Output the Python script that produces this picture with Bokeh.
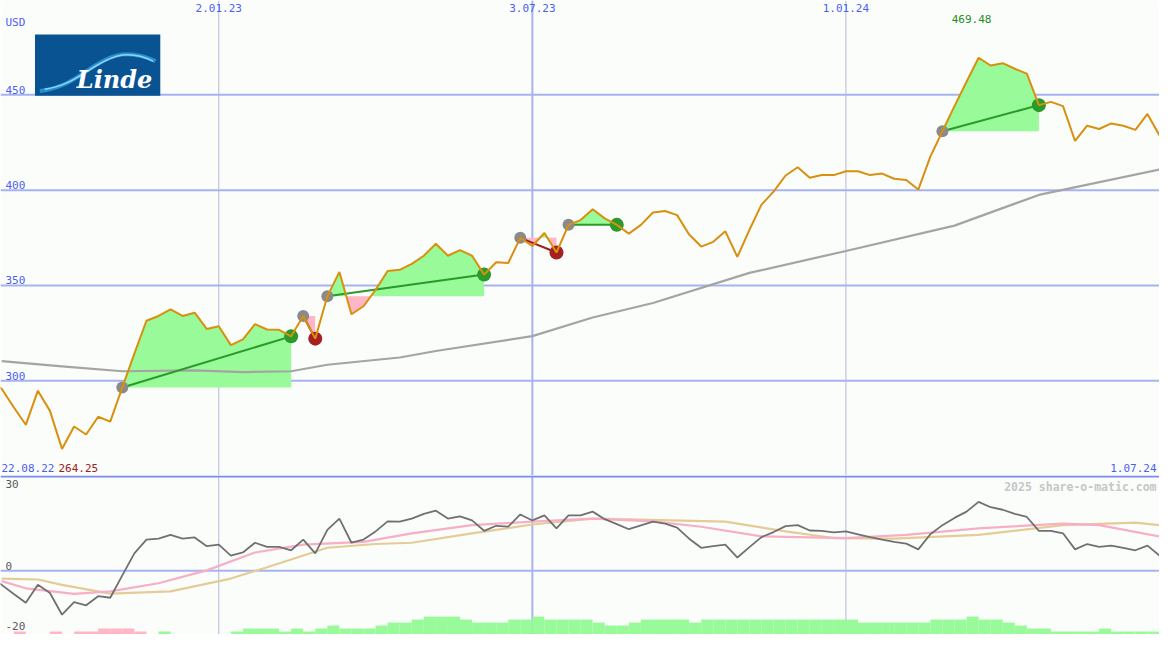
import datetime as dt
import numpy as np
from bokeh.plotting import figure
from bokeh.layouts import column
from bokeh.models import Range1d, Span
from bokeh.core.properties import value
from bokeh.embed import file_html
from bokeh.resources import INLINE

# ---------------- data ----------------
start_date = "22.08.22"          # first weekly close (index 0)
end_date = "1.07.24"
currency = "USD"
company = "Linde"

# weekly closing prices, index 0 = 22.08.22 ... index 97 = 1.07.24
price = [300.0, 295.8, 286.1, 276.9, 294.8, 284.2, 264.25, 276.0, 271.8, 281.1,
         278.6, 296.5, 314.2, 331.5, 334.0, 337.4, 334.0, 335.7, 327.2, 328.6,
         318.7, 321.7, 329.7, 326.9, 326.7, 323.3, 334.0, 322.1, 344.3, 357.1,
         334.9, 339.1, 347.7, 357.6, 358.2, 361.3, 365.6, 371.9, 365.6, 368.5,
         365.6, 355.7, 362.2, 361.8, 375.0, 370.7, 377.5, 367.3, 381.8, 384.3,
         390.0, 385.2, 381.8, 377.2, 381.8, 388.3, 389.1, 386.9, 376.7, 370.4,
         372.9, 378.4, 365.0, 379.2, 392.4, 399.2, 407.7, 412.0, 406.5, 407.9,
         407.9, 409.9, 409.9, 407.9, 408.7, 406.0, 405.3, 400.3, 417.6, 430.9,
         444.1, 456.9, 469.48, 465.4, 466.6, 463.7, 461.1, 444.6, 446.3, 444.1,
         425.8, 433.8, 432.1, 435.0, 433.8, 431.6, 440.0, 428.7]

# long moving average (grey), read at selected weeks
ma_idx = [1, 6, 11, 17, 21, 25, 28, 34, 37, 45, 50, 55, 63, 71, 80, 87, 97]
ma_val = [310.3, 307.6, 305.0, 305.5, 304.5, 305.0, 308.4, 312.2, 315.6, 323.4,
          333.2, 340.8, 356.6, 368.1, 381.4, 397.5, 410.8]

# trades: entry / exit week indices
entry_idx = [11, 26, 28, 44, 48, 79]
exit_idx = [25, 27, 41, 47, 52, 87]

# lower panel: oscillator (dark grey), weekly
osc = [-2.0, -4.5, -7.4, -10.2, -4.5, -7.1, -14.0, -10.0, -11.0, -8.1,
       -8.6, -1.5, 5.5, 9.9, 10.2, 11.4, 10.2, 10.6, 7.8, 8.3,
       4.8, 5.8, 8.9, 7.6, 7.6, 6.5, 9.9, 5.5, 13.0, 16.6,
       8.9, 9.9, 12.5, 15.7, 15.6, 16.6, 18.1, 19.1, 16.6, 17.3,
       16.0, 12.7, 14.3, 14.0, 17.9, 16.0, 17.6, 13.5, 17.6, 17.6,
       18.8, 16.4, 14.8, 13.2, 14.4, 15.6, 15.0, 13.7, 10.2, 7.3,
       7.8, 8.3, 4.2, 7.5, 10.7, 12.3, 14.2, 14.5, 12.8, 12.7,
       12.2, 12.5, 11.6, 10.7, 9.9, 9.2, 8.6, 6.8, 11.6, 14.5,
       16.8, 18.8, 21.9, 20.2, 19.4, 18.1, 17.1, 12.7, 12.7, 11.9,
       6.8, 8.5, 7.6, 8.0, 7.3, 6.5, 8.0, 4.8]

# signal lines (pink / tan), read at selected weeks
pink_idx = [1, 3, 7, 10, 14, 18, 22, 26, 31, 35, 40, 45, 50, 55, 59, 64, 71, 76, 82, 89, 92, 97]
pink_val = [-3.3, -5.6, -7.4, -6.6, -4.0, 0.1, 5.8, 8.3, 9.2, 11.9, 14.5, 15.6, 16.6,
            15.7, 14.0, 10.9, 10.4, 11.4, 13.5, 15.0, 14.5, 10.9]
tan_idx = [1, 4, 6, 10, 15, 20, 23, 28, 32, 35, 40, 45, 50, 52, 61, 66, 70, 75, 82, 89, 95, 97]
tan_val = [-2.5, -2.8, -4.5, -7.3, -6.6, -2.5, 1.1, 7.3, 8.5, 8.9, 11.9, 14.7, 16.6,
           16.4, 15.6, 12.5, 10.4, 10.2, 11.4, 14.5, 15.3, 14.5]

# weekly signal-strength bars (positive green, negative pink), bar k spans week k..k+1
vol_level = [0, 0, -1, 0, 0, -1, 0, -1, -1, -2,
             -2, -2, -1, 0, 1, 0, 0, 0, 0, 0,
             1, 2, 2, 2, 1, 2, 1, 2, 3, 2,
             2, 2, 3, 4, 4, 5, 6, 6, 6, 5,
             4, 4, 4, 5, 5, 6, 5, 5, 5, 5,
             4, 3, 3, 4, 5, 5, 5, 5, 4, 5,
             5, 5, 5, 5, 5, 5, 5, 5, 5, 5,
             5, 5, 4, 4, 4, 4, 4, 4, 5, 5,
             5, 6, 5, 5, 4, 3, 2, 2, 1, 1,
             1, 1, 2, 1, 1, 1, 1]

date_ticks = ["2.01.23", "3.07.23", "1.01.24"]
major_tick = "3.07.23"
price_ticks = [300, 350, 400, 450]
osc_ticks = [30, 0, -20]
min_label = "264.25"
max_label = "469.48"
watermark = "2025 share-o-matic.com"

# ---------------- style ----------------
BG = "#fbfdfb"
GRID = "#a6b3f0"
MINOR_V = "#b6b8d6"
TXT_BLUE = "#4d5ff0"
MONO = value("DejaVu Sans Mono")
FS = "11px"
W = 1159
H_TOP = 475
H_BOT = 159
X0, X1 = 0.9, 97.0
Y_TOP = (250.3, 499.5)
Y_BOT = (-20.3, 30.3)


def week_index(s):
    d0 = dt.datetime.strptime(start_date, "%d.%m.%y")
    d = dt.datetime.strptime(s, "%d.%m.%y")
    return (d - d0).days / 7.0


xr = Range1d(X0, X1)
wk = np.arange(len(price))
pr = np.array(price)


def base_fig(height, yr):
    f = figure(width=W, height=height, x_range=xr, y_range=Range1d(*yr),
               x_axis_type=None, y_axis_type=None, toolbar_location=None,
               output_backend="svg", min_border=0, background_fill_color=BG,
               border_fill_color=BG, outline_line_color=None)
    f.xgrid.visible = False
    f.ygrid.visible = False
    for s in date_ticks:
        major = s == major_tick
        f.add_layout(Span(location=week_index(s), dimension="height",
                          line_color=GRID if major else MINOR_V,
                          line_width=2 if major else 1, level="underlay"))
    return f


# ---------------- top panel ----------------
p = base_fig(H_TOP, Y_TOP)
for t in price_ticks:
    p.add_layout(Span(location=t, dimension="width", line_color=GRID,
                      line_width=2, level="underlay"))

# trade fills
for a, b in zip(entry_idx, exit_idx):
    L = price[a]
    xs, ys = [], []
    for k in range(a, b):
        xs.append(k)
        ys.append(price[k])
        d0, d1 = price[k] - L, price[k + 1] - L
        if d0 * d1 < 0:
            xs.append(k + (L - price[k]) / (price[k + 1] - price[k]))
            ys.append(L)
    xs.append(b)
    ys.append(price[b])
    ys = np.array(ys)
    p.varea(x=xs, y1=L, y2=np.maximum(ys, L), fill_color="#98fa98")
    p.varea(x=xs, y1=L, y2=np.minimum(ys, L), fill_color="#ffb6c6")

# moving average
p.line(ma_idx, ma_val, line_color="#a4a4a4", line_width=2.2)

# trade connecting lines
win = [price[b] >= price[a] for a, b in zip(entry_idx, exit_idx)]
p.segment(x0=entry_idx, y0=[price[a] for a in entry_idx],
          x1=exit_idx, y1=[price[b] for b in exit_idx],
          line_color=["#2a9a2a" if w else "#a01c1c" for w in win], line_width=2)

# markers
p.scatter(entry_idx, [price[a] for a in entry_idx], size=12,
          fill_color="#8a8a8a", line_color=None)
p.scatter(exit_idx, [price[b] for b in exit_idx], size=14,
          fill_color=["#2a9a2a" if w else "#a52020" for w in win], line_color=None)

# price line
p.line(wk, pr, line_color="#d8900e", line_width=2)

# logo (decoration, placed in the upper-left corner)
lx0, lx1 = X0 + 2.86, X0 + 13.25
ly0, ly1 = 449.5, 481.7
p.quad(left=lx0, right=lx1, bottom=ly0, top=ly1, fill_color="#0a5393", line_color=None)
p.bezier(x0=lx0 + 0.4, y0=ly0 + 2.5, x1=lx1 - 0.4, y1=ly1 - 14,
         cx0=lx0 + 4.5, cy0=ly0 + 5, cx1=lx0 + 5.5, cy1=ly1 - 1,
         line_color="#2f9fdc", line_width=4, line_alpha=0.8)
p.bezier(x0=lx0 + 0.8, y0=ly0 + 3.5, x1=lx1 - 0.6, y1=ly1 - 14,
         cx0=lx0 + 4.5, cy0=ly0 + 6, cx1=lx0 + 5.8, cy1=ly1 - 2,
         line_color="#8fd8f8", line_width=1.5)
p.text(x=[(lx0 + lx1) / 2 + 1.4], y=[ly0 + 1.2], text=[company],
       text_font=value("DejaVu Serif"), text_font_style="bold italic",
       text_font_size="24px", text_color="white", text_align="center",
       text_baseline="bottom")

# texts
p.text(x=[X0], y=[Y_TOP[1]], text=[currency], text_font=MONO, text_font_size=FS,
       text_color=TXT_BLUE, text_baseline="top", x_offset=5, y_offset=15)
p.text(x=[X0] * len(price_ticks), y=price_ticks, text=[str(t) for t in price_ticks],
       text_font=MONO, text_font_size=FS, text_color=TXT_BLUE,
       text_baseline="bottom", x_offset=5, y_offset=-1)
p.text(x=[week_index(s) for s in date_ticks], y=[Y_TOP[1]] * len(date_ticks), text=date_ticks,
       text_font=MONO, text_font_size=FS, text_color=TXT_BLUE,
       text_align="center", text_baseline="top", y_offset=3)
imax = int(np.argmax(pr))
p.text(x=[imax], y=[Y_TOP[1]], text=[max_label], text_font=MONO, text_font_size=FS,
       text_color="#1e8c1e", text_align="center", text_baseline="top",
       x_offset=-7, y_offset=14)
p.text(x=[X0], y=[Y_TOP[0]], text=[start_date], text_font=MONO, text_font_size=FS,
       text_color=TXT_BLUE, text_baseline="bottom", x_offset=1, y_offset=-4)
p.text(x=[X0], y=[Y_TOP[0]], text=[min_label], text_font=MONO, text_font_size=FS,
       text_color="#a02020", text_baseline="bottom", x_offset=58, y_offset=-4)
p.text(x=[X1], y=[Y_TOP[0]], text=[end_date], text_font=MONO, text_font_size=FS,
       text_color=TXT_BLUE, text_align="right", text_baseline="bottom",
       x_offset=-3, y_offset=-4)

# ---------------- bottom panel ----------------
q = base_fig(H_BOT, Y_BOT)
q.add_layout(Span(location=0, dimension="width", line_color=GRID, line_width=2, level="underlay"))
q.add_layout(Span(location=30, dimension="width", line_color="#7d8bef", line_width=2))

vl = np.array(vol_level)
kk = np.arange(len(vl))
q.quad(left=kk, right=kk + 1, bottom=Y_BOT[0], top=Y_BOT[0] + np.abs(vl) * 0.95,
       fill_color=["#98fa98" if v > 0 else "#ffb6c6" for v in vl], line_color=None)

q.line(tan_idx, tan_val, line_color="#e4cc98", line_width=2.2)
q.line(pink_idx, pink_val, line_color="#f7aec6", line_width=2.2)
q.line(wk, osc, line_color="#707070", line_width=1.8)

q.text(x=[X0], y=[30], text=[str(osc_ticks[0])], text_font=MONO, text_font_size=FS,
       text_color="#5a5a5a", text_baseline="top", x_offset=5, y_offset=4)
q.text(x=[X0], y=[osc_ticks[1]], text=[str(osc_ticks[1])], text_font=MONO,
       text_font_size=FS, text_color="#5a5a5a", text_baseline="bottom",
       x_offset=5, y_offset=-1)
q.text(x=[X0], y=[osc_ticks[2]], text=[str(osc_ticks[2])], text_font=MONO,
       text_font_size=FS, text_color="#5a5a5a", text_baseline="bottom",
       x_offset=5, y_offset=-4)
q.text(x=[X1], y=[30], text=[watermark], text_font=MONO, text_font_size="11.5px",
       text_font_style="bold", text_color="#c6c6c6", text_align="right",
       text_baseline="top", x_offset=-3, y_offset=4)

layout = column(p, q, spacing=0)
open("out.html", "w").write(file_html(layout, INLINE))
